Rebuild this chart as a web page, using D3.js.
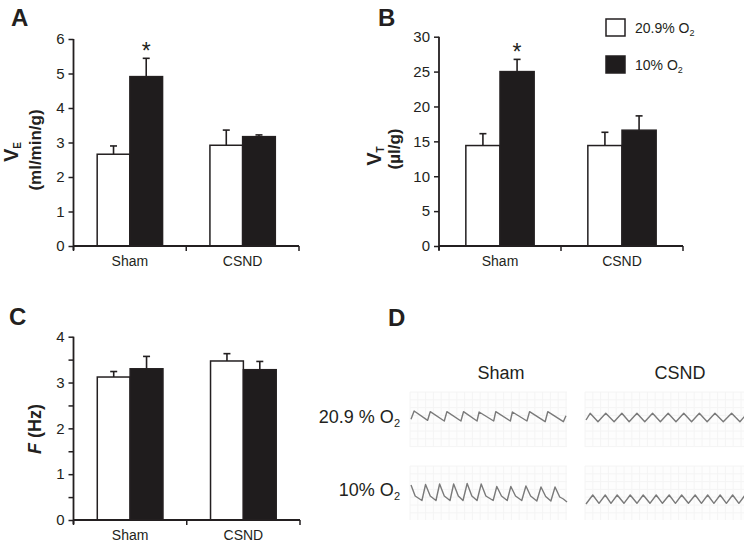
<!DOCTYPE html>
<html><head><meta charset="utf-8">
<script src="https://cdn.jsdelivr.net/npm/d3@7"></script>
<style>
body{margin:0;background:#fff}
svg{display:block}
text{font-family:"Liberation Sans",Arial,Helvetica,sans-serif;fill:#231f20}
</style>
</head><body>
<svg id="c" width="744" height="544"></svg>
<script>
// ---------- data ----------
const categories = ["Sham", "CSND"];
const conditions = ["20.9% O2", "10% O2"];

// Panel A: minute ventilation (ml/min/g)
const veNormoxia = [2.66, 2.92];
const veNormoxiaSEM = [0.24, 0.44];
const veHypoxia = [4.91, 3.17];
const veHypoxiaSEM = [0.53, 0.05];
const veTicks = [0, 1, 2, 3, 4, 5, 6];

// Panel B: tidal volume (µl/g)
const vtNormoxia = [14.4, 14.4];
const vtNormoxiaSEM = [1.7, 1.9];
const vtHypoxia = [25.0, 16.6];
const vtHypoxiaSEM = [1.75, 2.05];
const vtTicks = [0, 5, 10, 15, 20, 25, 30];

// Panel C: respiratory frequency (Hz)
const fNormoxia = [3.12, 3.47];
const fNormoxiaSEM = [0.12, 0.16];
const fHypoxia = [3.30, 3.28];
const fHypoxiaSEM = [0.27, 0.18];
const fTicks = [0, 0.5, 1, 1.5, 2, 2.5, 3, 3.5, 4];
const fTickLabels = [0, 1, 2, 3, 4];

// significance (hypoxia vs normoxia), per category
const veSignificant = [true, false];
const vtSignificant = [true, false];

// Panel D: plethysmography traces, [time (s), volume (a.u.)]
const traceShamNormoxia = [[0.00,2.7],[0.06,11],[0.32,1.7],[0.37,10.3],[0.64,1],[0.69,10.3],[0.96,1],[1.01,10.3],[1.27,1],[1.31,10],[1.59,1],[1.63,10.3],[1.91,1],[1.95,10],[2.23,1],[2.28,10.3],[2.58,0.3],[2.63,10.3],[2.93,0.3],[2.98,6.3]];
const traceShamHypoxia = [[0.00,19],[0.08,8],[0.21,3.5],[0.28,19.5],[0.37,8],[0.48,3.5],[0.55,20],[0.64,8],[0.75,3.5],[0.82,20],[0.91,8],[1.00,3.5],[1.08,20.5],[1.17,8],[1.27,3.5],[1.35,20],[1.44,8],[1.58,3.5],[1.65,17.5],[1.74,8],[1.85,3.5],[1.92,17.5],[2.01,8],[2.13,3.5],[2.21,18],[2.30,8],[2.42,3],[2.50,17],[2.59,7.5],[2.69,3],[2.77,17],[2.86,7],[2.93,5],[3.00,2]];
const traceCsndNormoxia = [[0.00,2],[0.08,8.7],[0.23,0.3],[0.38,8.7],[0.54,0.3],[0.69,8.7],[0.83,0.3],[0.98,8.7],[1.13,0.3],[1.28,8.7],[1.43,0.3],[1.58,8.7],[1.73,0.3],[1.88,8.7],[2.03,0.3],[2.18,8.7],[2.33,0.3],[2.48,8.7],[2.64,0.3],[2.80,8.7],[2.96,0.3],[3.10,8.7]];
const traceCsndHypoxia = [[0.00,0],[0.13,9],[0.25,0.7],[0.37,9],[0.48,0.7],[0.60,9],[0.73,0.7],[0.85,9],[0.98,0.7],[1.10,9],[1.23,0.7],[1.35,9],[1.47,0.7],[1.60,9],[1.72,0.7],[1.84,9],[1.97,0.7],[2.10,9],[2.22,0.7],[2.34,9],[2.46,0.7],[2.58,9],[2.70,0.7],[2.82,9],[2.94,0.7],[3.06,9]];

// ---------- drawing ----------
const svg = d3.select("#c");
const INK = "#231f20";
const BAR_DARK = "#1f1c1d";

function panelLetter(x, y, s) {
  svg.append("text").attr("x", x).attr("y", y).attr("font-size", 24)
    .attr("font-weight", "bold").text(s);
}

function barPanel(o) {
  const g = svg.append("g");
  const y = d3.scaleLinear().domain([0, o.max]).range([o.yBottom, o.yTop]);
  const x = d3.scaleBand().domain(categories).range([o.xLeft, o.xRight]);
  const xs = d3.scaleBand().domain(conditions)
    .range([x.bandwidth() * o.inner, x.bandwidth() * (1 - o.inner)]);

  const rows = [];
  categories.forEach((c, i) => {
    rows.push({cat: c, cond: conditions[0], v: o.norm[i], e: o.normSEM[i], dark: false, sig: false});
    rows.push({cat: c, cond: conditions[1], v: o.hyp[i], e: o.hypSEM[i], dark: true, sig: o.sig ? o.sig[i] : false});
  });

  rows.forEach(r => {
    const cx = x(r.cat) + xs(r.cond) + xs.bandwidth() / 2;
    g.append("line").attr("x1", cx).attr("x2", cx)
      .attr("y1", y(r.v)).attr("y2", y(r.v + r.e))
      .attr("stroke", INK).attr("stroke-width", 1.6);
    g.append("line").attr("x1", cx - 3.5).attr("x2", cx + 3.5)
      .attr("y1", y(r.v + r.e)).attr("y2", y(r.v + r.e))
      .attr("stroke", INK).attr("stroke-width", 1.6);
    if (r.sig) {
      g.append("text").attr("x", cx).attr("y", y(r.v + r.e) + 1)
        .attr("text-anchor", "middle").attr("font-size", 23).text("*");
    }
  });
  g.selectAll("rect.bar").data(rows).join("rect").attr("class", "bar")
    .attr("x", r => x(r.cat) + xs(r.cond))
    .attr("width", xs.bandwidth())
    .attr("y", r => y(r.v))
    .attr("height", r => y(0) - y(r.v))
    .attr("fill", r => r.dark ? BAR_DARK : "#fff")
    .attr("stroke", INK).attr("stroke-width", 1.5);

  const ya = d3.axisLeft(y).tickValues(o.ticks).tickSize(5).tickPadding(4)
    .tickFormat(d => (o.labels ? (o.labels.includes(d) ? d : "") : d));
  const yg = g.append("g").attr("transform", `translate(${o.xLeft},0)`).call(ya);
  yg.select(".domain").attr("d", `M0,${o.yTop}V${o.yBottom + 4}`).attr("stroke", INK).attr("stroke-width", 1.8);
  yg.selectAll(".tick line").attr("stroke", INK).attr("stroke-width", 1.5);
  yg.selectAll(".tick text").attr("font-size", 15).attr("fill", INK)
    .attr("font-family", '"Liberation Sans",Arial,sans-serif');

  const xa = d3.axisBottom(x).tickSize(0).tickPadding(10);
  const xg = g.append("g").attr("transform", `translate(0,${o.yBottom})`).call(xa);
  xg.select(".domain").attr("d", `M${o.xLeft},0H${o.xRight}`).attr("stroke", INK).attr("stroke-width", 1.8);
  xg.selectAll(".tick text").attr("font-size", 14).attr("fill", INK)
    .attr("font-family", '"Liberation Sans",Arial,sans-serif');
  const bounds = [o.xLeft, x(categories[1]), o.xRight];
  xg.selectAll("line.bnd").data(bounds).join("line").attr("class", "bnd")
    .attr("x1", d => d).attr("x2", d => d).attr("y1", 0).attr("y2", 5)
    .attr("stroke", INK).attr("stroke-width", 1.5);
  return {x, y};
}

// Panel A
panelLetter(11, 26, "A");
barPanel({xLeft: 73.5, xRight: 299, yTop: 39, yBottom: 246, max: 6, ticks: veTicks,
  norm: veNormoxia, normSEM: veNormoxiaSEM, hyp: veHypoxia, hypSEM: veHypoxiaSEM, sig: veSignificant, inner: 0.21});
{
  const t = svg.append("text").attr("transform", "translate(18,152) rotate(-90)")
    .attr("text-anchor", "middle").attr("font-weight", "bold");
  t.append("tspan").attr("font-size", 20).text("V");
  t.append("tspan").attr("font-size", 10).attr("dy", 3).text("E");
  svg.append("text").attr("transform", "translate(41,150) rotate(-90)")
    .attr("text-anchor", "middle").attr("font-weight", "bold").attr("font-size", 17).text("(ml/min/g)");
}

// Panel B
panelLetter(378, 26, "B");
barPanel({xLeft: 439, xRight: 683, yTop: 36.7, yBottom: 246, max: 30, ticks: vtTicks,
  norm: vtNormoxia, normSEM: vtNormoxiaSEM, hyp: vtHypoxia, hypSEM: vtHypoxiaSEM, sig: vtSignificant, inner: 0.22});
{
  const t = svg.append("text").attr("transform", "translate(381,156) rotate(-90)")
    .attr("text-anchor", "middle").attr("font-weight", "bold");
  t.append("tspan").attr("font-size", 20).text("V");
  t.append("tspan").attr("font-size", 10).attr("dy", 3).text("T");
  svg.append("text").attr("transform", "translate(400,149) rotate(-90)")
    .attr("text-anchor", "middle").attr("font-weight", "bold").attr("font-size", 17).text("(µl/g)");
}
// legend
{
  const lg = svg.append("g");
  const items = [{c: conditions[0], dark: false, y: 19}, {c: conditions[1], dark: true, y: 56}];
  items.forEach(it => {
    lg.append("rect").attr("x", 606).attr("y", it.y).attr("width", 19).attr("height", 17)
      .attr("fill", it.dark ? BAR_DARK : "#fff").attr("stroke", INK).attr("stroke-width", 1.5);
    const parts = it.c.split("O2");
    const t = lg.append("text").attr("x", 635).attr("y", it.y + 14).attr("font-size", 14);
    t.append("tspan").text(parts[0] + "O");
    t.append("tspan").attr("font-size", 9).attr("dy", 3).text("2");
  });
}

// Panel C
panelLetter(9, 325, "C");
barPanel({xLeft: 73.5, xRight: 300, yTop: 336.7, yBottom: 520, max: 4, ticks: fTicks, labels: fTickLabels,
  norm: fNormoxia, normSEM: fNormoxiaSEM, hyp: fHypoxia, hypSEM: fHypoxiaSEM, sig: null, inner: 0.21});
{
  const t = svg.append("text").attr("transform", "translate(41,429) rotate(-90)")
    .attr("text-anchor", "middle").attr("font-weight", "bold").attr("font-size", 18);
  t.append("tspan").attr("font-style", "italic").text("F");
  t.append("tspan").text(" (Hz)");
}

// Panel D
panelLetter(388, 326, "D");
{
  const dg = svg.append("g");
  const colX = {Sham: [411, 567], CSND: [586, 742]};
  const paperX = {Sham: [410, 567], CSND: [585, 744]};
  const rowBase = [{base: 422, paper: [392, 447]}, {base: 504, paper: [466, 520]}];
  const rowLabels = ["20.9 % O", "10% O"];
  const traces = {Sham: [traceShamNormoxia, traceShamHypoxia], CSND: [traceCsndNormoxia, traceCsndHypoxia]};

  categories.forEach(cat => {
    const t = d3.scaleLinear().domain([0, 3]).range(colX[cat]);
    dg.append("text").attr("x", (colX[cat][0] + colX[cat][1]) / 2 + (cat === "Sham" ? 12 : 16)).attr("y", 379)
      .attr("text-anchor", "middle").attr("font-size", 18).text(cat);
    rowBase.forEach((row, ri) => {
      const px = paperX[cat], py = row.paper;
      const gx = d3.range(px[0], px[1] + 0.1, 7.8);
      const gy = d3.range(py[0], py[1] + 0.1, 7.8);
      dg.append("rect").attr("x", px[0]).attr("y", py[0]).attr("width", px[1] - px[0]).attr("height", py[1] - py[0])
        .attr("fill", "#fdfdfd");
      dg.selectAll(null).data(gx).join("line").attr("x1", d => d).attr("x2", d => d)
        .attr("y1", py[0]).attr("y2", py[1]).attr("stroke", "#f4f4f4").attr("stroke-width", 1);
      dg.selectAll(null).data(gy).join("line").attr("y1", d => d).attr("y2", d => d)
        .attr("x1", px[0]).attr("x2", px[1]).attr("stroke", "#f4f4f4").attr("stroke-width", 1);

      const y = d3.scaleLinear().domain([0, 20]).range([row.base, row.base - 20]);
      const line = d3.line().x(d => t(d[0])).y(d => y(d[1]));
      dg.append("path").attr("d", line(traces[cat][ri])).attr("fill", "none")
        .attr("stroke", "#7a7a7a").attr("stroke-width", 1.4).attr("stroke-linejoin", "round");
    });
  });
  [[423, rowLabels[0]], [496, rowLabels[1]]].forEach(([yy, s]) => {
    const t = dg.append("text").attr("x", 400).attr("y", yy).attr("text-anchor", "end").attr("font-size", 18);
    t.append("tspan").text(s);
    t.append("tspan").attr("font-size", 11).attr("dy", 4).text("2");
  });
}
</script>
</body></html>
